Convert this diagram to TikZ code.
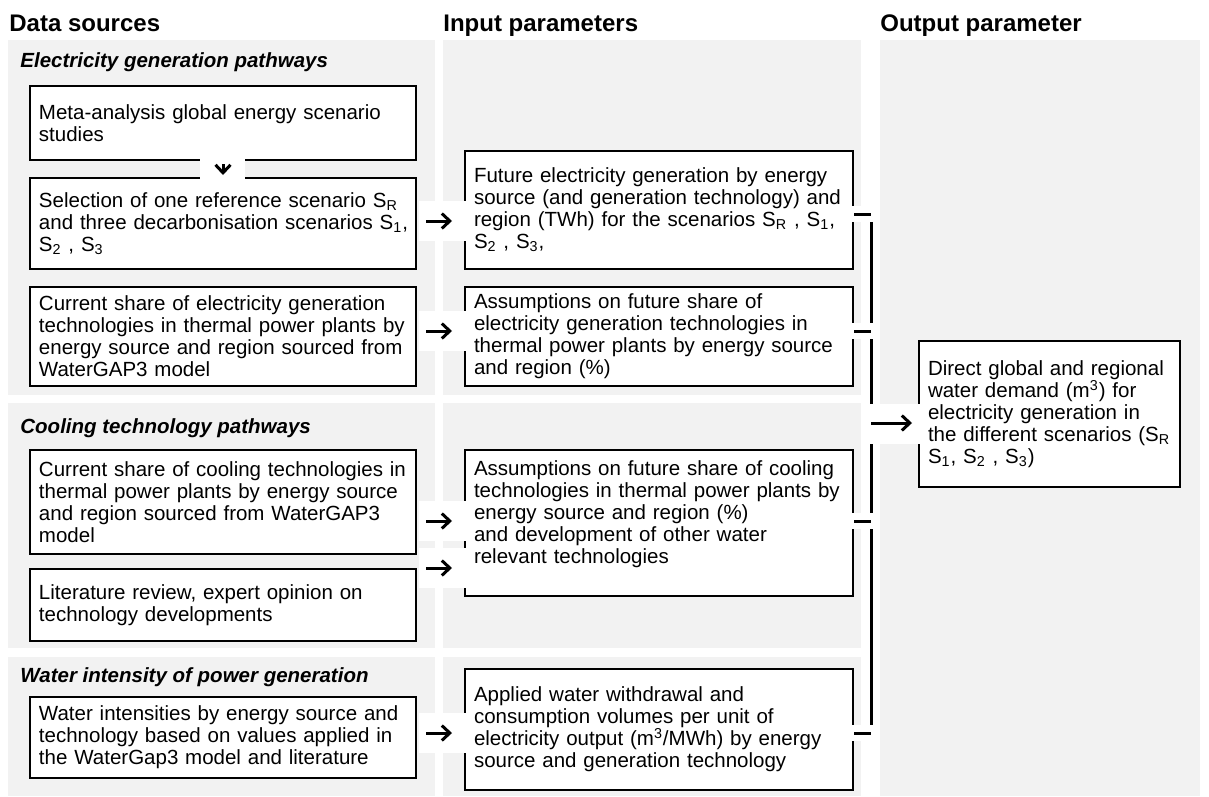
\documentclass[tikz,border=0pt]{standalone}
\usepackage{fontspec}
\setmainfont{Liberation Sans}
\usetikzlibrary{calc,arrows.meta}
\definecolor{panelgray}{RGB}{242,242,242}
\tikzset{
	infobox/.style={draw=black, line width=1pt, fill=white, anchor=north west, align=left, inner xsep=4.5pt, inner ysep=0pt, font=\fontsize{10.25}{11}\selectfont},
	colhead/.style={anchor=base west, inner sep=0pt, font=\fontsize{12}{14}\selectfont\bfseries},
	sechead/.style={anchor=base west, inner sep=0pt, font=\fontsize{10.25}{12}\selectfont\bfseries\itshape},
	flow/.style={-{Straight Barb[length=4pt,width=7.5pt]}, line width=1.5pt},
	bus/.style={line width=1.5pt},
}

\begin{document}
\begin{tikzpicture}[x=0.5pt, y=-0.5pt]
		%%%%% START %%%%%
		\useasboundingbox (0,0) rectangle (1209,797);
		
		% grey panels
		\fill[panelgray] (8,40) rectangle (435,395);
		\fill[panelgray] (8,403) rectangle (435,648);
		\fill[panelgray] (8,657) rectangle (435,796);
		\fill[panelgray] (443,40) rectangle (861,395);
		\fill[panelgray] (443,403) rectangle (861,648);
		\fill[panelgray] (443,657) rectangle (861,796);
		\fill[panelgray] (880,40) rectangle (1200,796);
		
		% headings
		\node[colhead] (hData) at (9,32) {Data sources};
		\node[colhead] (hInput) at (443,32) {Input parameters};
		\node[colhead] (hOutput) at (880,32) {Output parameter};
		\node[sechead] (hElec) at (20,68) {Electricity generation pathways};
		\node[sechead] (hCool) at (20,433) {Cooling technology pathways};
		\node[sechead] (hWater) at (20,682) {Water intensity of power generation};
		
		% data sources
		\node[infobox, text width=184pt, minimum height=37pt] (metaA) at (29,85) {Meta-analysis global energy scenario\\studies};
		\node[infobox, text width=184pt, minimum height=45.5pt] (selB) at (29,177) {Selection of one reference scenario S\textsubscript{R}\\\mbox{and three decarbonisation scenarios S\textsubscript{1},}\\S\textsubscript{2} , S\textsubscript{3}};
		\node[infobox, text width=184pt, minimum height=49.5pt] (curC) at (29,286) {Current share of electricity generation\\technologies in thermal power plants by\\energy source and region sourced from\\WaterGAP3 model};
		\node[infobox, text width=184pt, minimum height=52pt] (curD) at (29,449) {Current share of cooling technologies in\\thermal power plants by energy source\\and region sourced from WaterGAP3\\model};
		\node[infobox, text width=184pt, minimum height=36pt] (litE) at (29,568) {Literature review, expert opinion on\\technology developments};
		\node[infobox, text width=184pt, minimum height=40.5pt] (watF) at (29,696) {Water intensities by energy source and\\technology based on values applied in\\the WaterGap3 model and literature};
		
		% input parameters
		\node[infobox, text width=185pt, minimum height=59pt] (futG) at (464,150) {Future electricity generation by energy\\source (and generation technology) and\\region (TWh) for the scenarios S\textsubscript{R} , S\textsubscript{1},\\S\textsubscript{2} , S\textsubscript{3},};
		\node[infobox, text width=185pt, minimum height=49.5pt] (assH) at (464,286) {Assumptions on future share of\\electricity generation technologies in\\thermal power plants by energy source\\and region (\%)};
		\node[infobox, text width=185pt, minimum height=73pt] (assI) at (464,449) {Assumptions on future share of cooling\\technologies in thermal power plants by\\energy source and region (\%)\\and development of other water\\relevant technologies\\\mbox{}};
		\node[infobox, text width=185pt, minimum height=60.5pt] (applJ) at (464,668) {Applied water withdrawal and\\consumption volumes per unit of\\electricity output (m\textsuperscript{3}/MWh) by energy\\source and generation technology};
		
		% output parameter
		\node[infobox, text width=121.5pt, inner xsep=4.5pt, minimum height=73pt] (outK) at (918,340) {Direct global and regional\\water demand (m\textsuperscript{3}) for\\electricity generation in\\the different scenarios (S\textsubscript{R}\\S\textsubscript{1}, S\textsubscript{2} , S\textsubscript{3})};
		
		% arrow levels
		\coordinate (a1) at ($(selB.east)+(0,-2.5)$);
		\coordinate (a2) at ($(curC.east)+(0,-5.5)$);
		\coordinate (a3) at ($(curD.east)+(0,19)$);
		\coordinate (a4) at ($(litE.east)+(0,-37)$);
		\coordinate (a5) at ($(watF.east)+(0,-4.5)$);
		\coordinate (t1) at ($(futG.east)+(0,4)$);
		\coordinate (t2) at ($(assH.east)+(0,-5.5)$);
		\coordinate (t3) at ($(assI.east)+(0,-2)$);
		\coordinate (t4) at ($(applJ.east)+(0,3.5)$);
		\coordinate (busTop) at ($(t1)+(17,0)$);
		\coordinate (busBot) at (t4 -| busTop);
		\coordinate (oK) at ($(outK.west)+(0,9)$);
		
		% data sources -> input parameters
		\fill[white] ($(metaA.south)+(-23,-2)$) rectangle ($(selB.north)+(22,2)$);
		\draw[flow, shorten <=1.5pt, shorten >=1pt] (metaA.south) -- (selB.north);
		\foreach \a/\b in {a1/futG, a2/assH, a3/assI, a4/assI, a5/applJ}
			\fill[white] ($(\a)+(2,-20)$) rectangle ($(\a -| \b.west)+(3,20)$);
		\foreach \a/\b in {a1/futG, a2/assH, a3/assI, a4/assI, a5/applJ}
			\draw[flow, shorten <=4.5pt, shorten >=6pt] (\a) -- (\a -| \b.west);
		
		% input parameters -> output parameter
		\draw[bus] (busTop) -- (busBot);
		\foreach \t in {t1,t2,t3,t4}
			\fill[white] ($(\t)+(-4,-8)$) rectangle ($(\t -| busTop)+(5,8)$);
		\foreach \t in {t1,t2,t3,t4}
			\draw[bus] (\t) -- (\t -| busTop);
		\fill[white] ($(oK -| busTop)+(-7,-19)$) rectangle ($(oK)+(7,21)$);
		\draw[flow, shorten >=3pt] (oK -| busTop) -- (oK);
		
		%%%%% END %%%%%
\end{tikzpicture}
\end{document}
